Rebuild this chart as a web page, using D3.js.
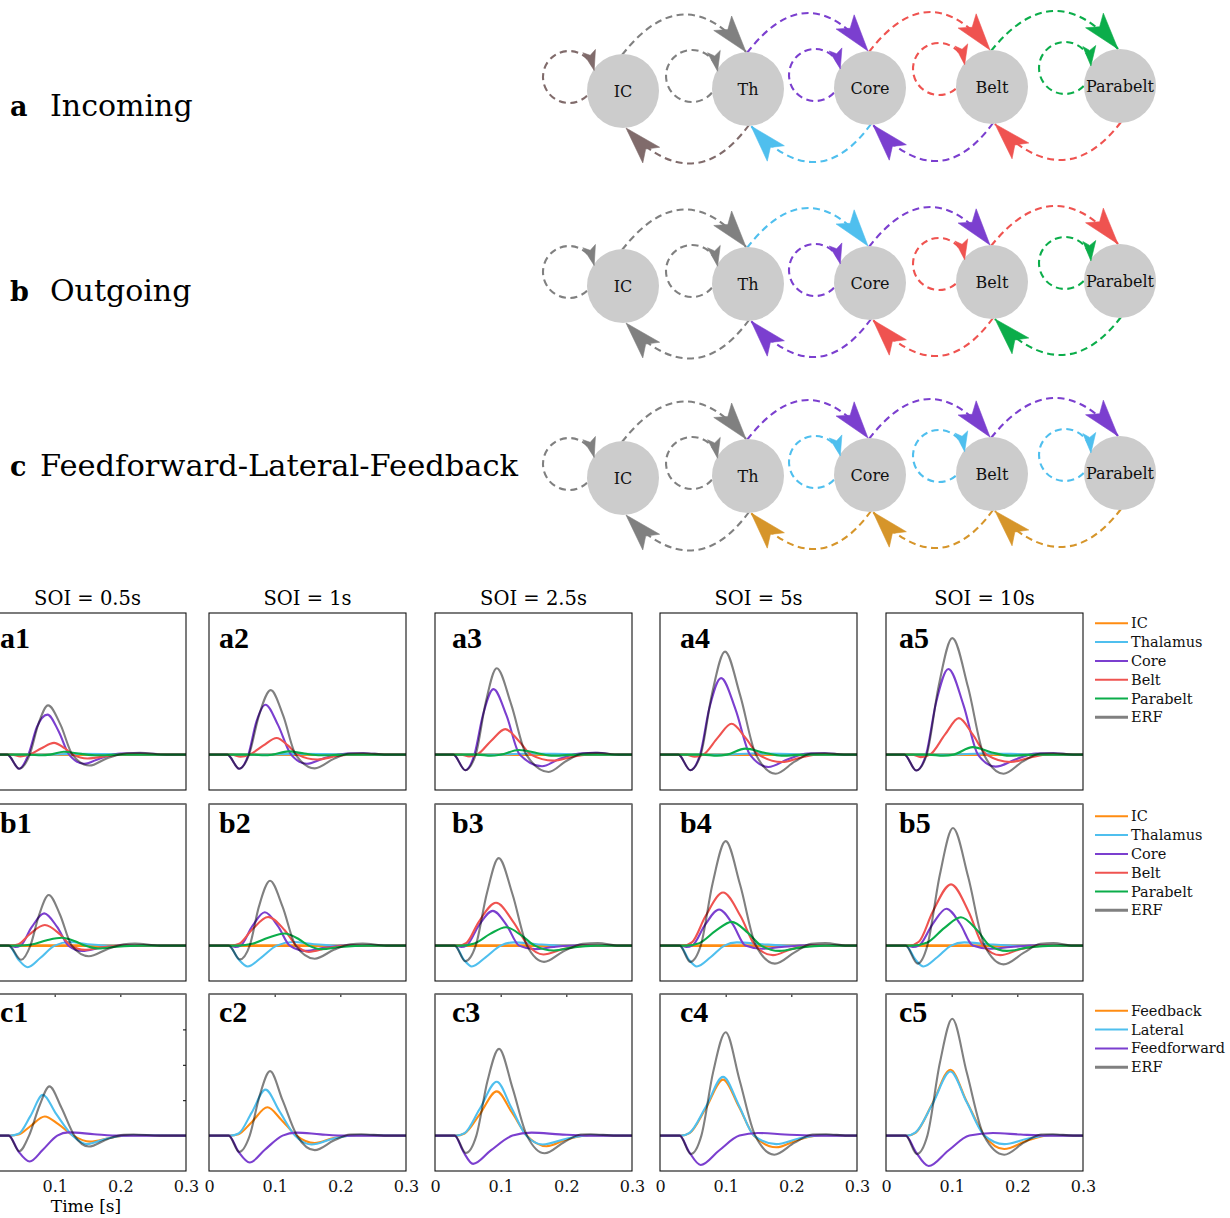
<!DOCTYPE html>
<html><head><meta charset="utf-8">
<script src="https://cdn.jsdelivr.net/npm/d3@7"></script>
<style>body{margin:0;background:#fff} svg{display:block}</style>
</head><body>
<svg id="chart" width="1230" height="1218"></svg>
<script>
// ================= DATA =================
const nodeNames = ["IC","Th","Core","Belt","Parabelt"];
const diagramLetters = ["a","b","c"];
const diagramTitles = ["Incoming","Outgoing","Feedforward-Lateral-Feedback"];
// edge colour names per diagram
const loopColors = [
  ["brown","gray","purple","red","green"],
  ["gray","gray","purple","red","green"],
  ["gray","gray","blue","blue","blue"]];
const forwardColors = [  // IC→Th, Th→Core, Core→Belt, Belt→Parabelt (upper arcs)
  ["gray","purple","red","green"],
  ["gray","blue","purple","red"],
  ["gray","purple","purple","purple"]];
const backwardColors = [ // Th→IC, Core→Th, Belt→Core, Parabelt→Belt (lower arcs)
  ["brown","blue","purple","red"],
  ["gray","purple","red","green"],
  ["gray","gold","gold","gold"]];

const soiLabels = ["SOI = 0.5s","SOI = 1s","SOI = 2.5s","SOI = 5s","SOI = 10s"];
const rowLetters = ["a","b","c"];
const regionNames = ["IC","Thalamus","Core","Belt","Parabelt","ERF"];
const connNames = ["Feedback","Lateral","Feedforward","ERF"];
const xTicks = [0, 0.1, 0.2, 0.3];
const yInnerTicks = [1, 2, 3];

// ---- Row a: Incoming (knots [time s, amplitude]) one list per SOI ----
const inIC = [
  [[0,0],[0.3,0]],[[0,0],[0.3,0]],[[0,0],[0.3,0]],[[0,0],[0.3,0]],[[0,0],[0.3,0]]];
const inTh = [
  [[0,0],[0.09,0],[0.13,0.02],[0.2,0.01],[0.3,0]],
  [[0,0],[0.09,0],[0.13,0.02],[0.2,0.01],[0.3,0]],
  [[0,0],[0.10,0],[0.14,0.03],[0.21,0.01],[0.3,0]],
  [[0,0],[0.10,0],[0.14,0.03],[0.21,0.01],[0.3,0]],
  [[0,0],[0.10,0],[0.145,0.03],[0.22,0.01],[0.3,0]]];
const inCore = [
  [[0,0],[0.028,0],[0.046,-0.40],[0.060,0],[0.073,0.78],[0.089,1.13],[0.106,0.66],[0.122,0],[0.145,-0.26],[0.17,-0.10],[0.20,0.03],[0.23,0.04],[0.27,0],[0.3,0]],
  [[0,0],[0.028,0],[0.046,-0.40],[0.060,0],[0.072,0.92],[0.086,1.41],[0.105,0.84],[0.125,0],[0.149,-0.26],[0.175,-0.10],[0.21,0.03],[0.235,0.04],[0.27,0],[0.3,0]],
  [[0,0],[0.028,0],[0.046,-0.44],[0.060,0],[0.073,1.12],[0.089,1.85],[0.109,1.10],[0.129,0],[0.163,-0.33],[0.19,-0.12],[0.22,0.03],[0.245,0.05],[0.28,0],[0.3,0]],
  [[0,0],[0.028,0],[0.046,-0.44],[0.061,0],[0.075,1.30],[0.093,2.16],[0.115,1.28],[0.137,0],[0.165,-0.35],[0.195,-0.13],[0.225,0.03],[0.25,0.04],[0.28,0],[0.3,0]],
  [[0,0],[0.028,0],[0.046,-0.45],[0.061,0],[0.076,1.45],[0.095,2.42],[0.118,1.40],[0.140,0],[0.167,-0.34],[0.198,-0.13],[0.228,0.03],[0.255,0.04],[0.285,0],[0.3,0]]];
const inBelt = [
  [[0,0],[0.035,0],[0.048,-0.05],[0.062,0],[0.080,0.18],[0.099,0.33],[0.115,0.18],[0.128,0],[0.150,-0.11],[0.18,-0.04],[0.21,0.01],[0.3,0]],
  [[0,0],[0.035,0],[0.048,-0.06],[0.062,0],[0.083,0.26],[0.103,0.47],[0.120,0.26],[0.135,0],[0.165,-0.14],[0.195,-0.04],[0.225,0.01],[0.3,0]],
  [[0,0],[0.040,0],[0.052,-0.05],[0.064,0],[0.086,0.40],[0.107,0.72],[0.127,0.40],[0.146,0],[0.180,-0.17],[0.21,-0.06],[0.24,0.01],[0.3,0]],
  [[0,0],[0.040,0],[0.053,-0.06],[0.066,0],[0.088,0.48],[0.109,0.87],[0.130,0.48],[0.150,0],[0.186,-0.21],[0.215,-0.08],[0.245,0.01],[0.3,0]],
  [[0,0],[0.040,0],[0.053,-0.07],[0.067,0],[0.090,0.57],[0.111,1.03],[0.132,0.57],[0.153,0],[0.190,-0.21],[0.22,-0.08],[0.25,0.01],[0.3,0]]];
const inPara = [
  [[0,0],[0.06,0],[0.08,-0.02],[0.093,0],[0.114,0.08],[0.14,0.02],[0.165,-0.02],[0.2,0],[0.3,0]],
  [[0,0],[0.065,0],[0.085,-0.02],[0.097,0],[0.121,0.09],[0.145,0.03],[0.17,-0.02],[0.21,0],[0.3,0]],
  [[0,0],[0.065,0],[0.085,-0.03],[0.100,0],[0.128,0.13],[0.156,0.04],[0.18,-0.03],[0.22,0],[0.3,0]],
  [[0,0],[0.065,0],[0.087,-0.03],[0.102,0],[0.130,0.17],[0.159,0.05],[0.185,-0.03],[0.225,0],[0.3,0]],
  [[0,0],[0.065,0],[0.087,-0.03],[0.103,0],[0.132,0.21],[0.161,0.06],[0.188,-0.03],[0.23,0],[0.3,0]]];
const inERF = [
  [[0,0],[0.028,0],[0.046,-0.40],[0.062,0],[0.075,0.85],[0.090,1.39],[0.109,0.84],[0.127,0],[0.153,-0.31],[0.18,-0.10],[0.21,0.04],[0.23,0.05],[0.27,0],[0.3,0]],
  [[0,0],[0.028,0],[0.046,-0.40],[0.061,0],[0.076,1.10],[0.094,1.82],[0.113,1.10],[0.132,0],[0.161,-0.39],[0.19,-0.12],[0.215,0.03],[0.235,0.04],[0.27,0],[0.3,0]],
  [[0,0],[0.028,0],[0.046,-0.44],[0.062,0],[0.077,1.45],[0.094,2.44],[0.116,1.42],[0.139,0],[0.173,-0.49],[0.20,-0.18],[0.225,0.03],[0.248,0.05],[0.28,0],[0.3,0]],
  [[0,0],[0.028,0],[0.046,-0.44],[0.062,0],[0.079,1.70],[0.099,2.91],[0.122,1.68],[0.146,0],[0.176,-0.54],[0.205,-0.20],[0.23,0.03],[0.252,0.04],[0.28,0],[0.3,0]],
  [[0,0],[0.028,0],[0.046,-0.45],[0.062,0],[0.080,1.92],[0.101,3.29],[0.125,1.90],[0.149,0],[0.179,-0.54],[0.208,-0.20],[0.235,0.03],[0.255,0.04],[0.285,0],[0.3,0]]];

// ---- Row b: Outgoing ----
const outIC = [
  [[0,0],[0.3,0]],[[0,0],[0.3,0]],[[0,0],[0.3,0]],[[0,0],[0.3,0]],[[0,0],[0.3,0]]];
const outTh = [
  [[0,0],[0.030,0],[0.045,-0.40],[0.059,-0.61],[0.078,-0.35],[0.100,0],[0.123,0.10],[0.15,0.04],[0.19,0],[0.3,0]],
  [[0,0],[0.030,0],[0.045,-0.39],[0.059,-0.59],[0.080,-0.33],[0.103,0],[0.128,0.10],[0.16,0.04],[0.20,0],[0.3,0]],
  [[0,0],[0.030,0],[0.044,-0.40],[0.056,-0.59],[0.077,-0.33],[0.100,0],[0.120,0.09],[0.155,0.04],[0.20,0],[0.3,0]],
  [[0,0],[0.030,0],[0.044,-0.40],[0.056,-0.59],[0.077,-0.33],[0.098,0],[0.117,0.09],[0.155,0.04],[0.20,0],[0.3,0]],
  [[0,0],[0.030,0],[0.045,-0.40],[0.057,-0.59],[0.078,-0.33],[0.099,0],[0.119,0.09],[0.155,0.04],[0.20,0],[0.3,0]]];
const outCore = [
  [[0,0],[0.032,0],[0.040,-0.04],[0.048,0],[0.065,0.52],[0.084,0.91],[0.104,0.52],[0.121,0],[0.142,-0.15],[0.17,-0.06],[0.21,0.01],[0.3,0]],
  [[0,0],[0.032,0],[0.040,-0.04],[0.048,0],[0.066,0.55],[0.085,0.94],[0.105,0.55],[0.123,0],[0.147,-0.15],[0.175,-0.06],[0.215,0.01],[0.3,0]],
  [[0,0],[0.032,0],[0.040,-0.04],[0.048,0],[0.067,0.58],[0.088,0.98],[0.109,0.58],[0.128,0],[0.152,-0.10],[0.18,-0.04],[0.22,0.01],[0.3,0]],
  [[0,0],[0.032,0],[0.040,-0.04],[0.049,0],[0.069,0.60],[0.090,1.02],[0.111,0.60],[0.130,0],[0.155,-0.09],[0.185,-0.04],[0.225,0.01],[0.3,0]],
  [[0,0],[0.032,0],[0.041,-0.04],[0.050,0],[0.071,0.61],[0.092,1.04],[0.113,0.61],[0.132,0],[0.158,-0.09],[0.19,-0.04],[0.23,0.01],[0.3,0]]];
const outBelt = [
  [[0,0],[0.033,0],[0.045,0.04],[0.062,0.32],[0.085,0.58],[0.108,0.32],[0.125,0],[0.146,-0.12],[0.175,-0.04],[0.21,0],[0.3,0]],
  [[0,0],[0.034,0],[0.046,0.05],[0.065,0.44],[0.090,0.81],[0.115,0.44],[0.133,0],[0.152,-0.18],[0.18,-0.07],[0.215,0],[0.3,0]],
  [[0,0],[0.035,0],[0.048,0.08],[0.066,0.65],[0.093,1.21],[0.120,0.65],[0.142,0],[0.165,-0.25],[0.195,-0.10],[0.23,0],[0.3,0]],
  [[0,0],[0.035,0],[0.049,0.10],[0.069,0.82],[0.096,1.50],[0.123,0.82],[0.145,0],[0.172,-0.27],[0.20,-0.10],[0.235,0],[0.3,0]],
  [[0,0],[0.035,0],[0.050,0.11],[0.071,0.95],[0.099,1.73],[0.126,0.95],[0.148,0],[0.174,-0.27],[0.205,-0.10],[0.24,0],[0.3,0]]];
const outPara = [
  [[0,0],[0.045,0],[0.065,0.03],[0.088,0.15],[0.111,0.22],[0.131,0.12],[0.146,0],[0.166,-0.08],[0.195,-0.03],[0.23,0],[0.3,0]],
  [[0,0],[0.045,0],[0.066,0.05],[0.090,0.22],[0.115,0.34],[0.137,0.18],[0.152,0],[0.171,-0.10],[0.20,-0.04],[0.24,0],[0.3,0]],
  [[0,0],[0.040,0],[0.060,0.06],[0.084,0.33],[0.108,0.52],[0.132,0.28],[0.152,0],[0.181,-0.14],[0.21,-0.05],[0.245,0],[0.3,0]],
  [[0,0],[0.040,0],[0.060,0.07],[0.085,0.42],[0.109,0.67],[0.134,0.36],[0.154,0],[0.182,-0.15],[0.215,-0.05],[0.25,0],[0.3,0]],
  [[0,0],[0.040,0],[0.062,0.08],[0.089,0.50],[0.114,0.80],[0.139,0.43],[0.158,0],[0.184,-0.15],[0.218,-0.05],[0.255,0],[0.3,0]]];
const outERF = [
  [[0,0],[0.030,0],[0.049,-0.40],[0.063,0],[0.076,0.85],[0.091,1.43],[0.108,0.88],[0.126,0],[0.152,-0.30],[0.18,-0.10],[0.205,0.04],[0.222,0.06],[0.26,0],[0.3,0]],
  [[0,0],[0.030,0],[0.047,-0.39],[0.062,0],[0.076,1.10],[0.093,1.83],[0.112,1.10],[0.132,0],[0.161,-0.37],[0.19,-0.12],[0.215,0.04],[0.234,0.06],[0.27,0],[0.3,0]],
  [[0,0],[0.030,0],[0.046,-0.44],[0.062,0],[0.079,1.48],[0.097,2.47],[0.118,1.45],[0.140,0],[0.166,-0.46],[0.195,-0.17],[0.225,0.05],[0.248,0.07],[0.28,0],[0.3,0]],
  [[0,0],[0.030,0],[0.046,-0.46],[0.062,0],[0.080,1.75],[0.100,2.95],[0.122,1.72],[0.146,0],[0.175,-0.51],[0.205,-0.19],[0.23,0.05],[0.252,0.07],[0.285,0],[0.3,0]],
  [[0,0],[0.030,0],[0.048,-0.51],[0.063,0],[0.082,2.00],[0.102,3.32],[0.125,1.95],[0.150,0],[0.179,-0.53],[0.21,-0.20],[0.235,0.05],[0.255,0.07],[0.285,0],[0.3,0]]];

// ---- Row c: Feedforward / Lateral / Feedback ----
const ffbFeedback = [
  [[0,0],[0.032,0],[0.045,0.03],[0.062,0.25],[0.085,0.54],[0.105,0.33],[0.128,0],[0.154,-0.17],[0.185,-0.06],[0.215,0.01],[0.3,0]],
  [[0,0],[0.032,0],[0.045,0.04],[0.065,0.38],[0.089,0.80],[0.110,0.45],[0.133,0],[0.161,-0.21],[0.19,-0.07],[0.225,0.01],[0.3,0]],
  [[0,0],[0.032,0],[0.045,0.06],[0.068,0.60],[0.094,1.25],[0.117,0.66],[0.140,0],[0.170,-0.30],[0.20,-0.11],[0.235,0.01],[0.3,0]],
  [[0,0],[0.032,0],[0.045,0.07],[0.070,0.78],[0.096,1.58],[0.120,0.82],[0.143,0],[0.177,-0.33],[0.21,-0.12],[0.245,0.01],[0.3,0]],
  [[0,0],[0.032,0],[0.045,0.08],[0.071,0.92],[0.098,1.86],[0.123,0.96],[0.150,0],[0.180,-0.38],[0.215,-0.14],[0.25,0.01],[0.3,0]]];
const ffbLateral = [
  [[0,0],[0.032,0],[0.045,0.05],[0.063,0.55],[0.082,1.15],[0.102,0.62],[0.127,0],[0.149,-0.24],[0.18,-0.08],[0.215,0.01],[0.3,0]],
  [[0,0],[0.032,0],[0.045,0.06],[0.065,0.65],[0.086,1.30],[0.107,0.70],[0.131,0],[0.156,-0.25],[0.19,-0.08],[0.225,0.01],[0.3,0]],
  [[0,0],[0.032,0],[0.045,0.07],[0.068,0.75],[0.094,1.52],[0.116,0.80],[0.139,0],[0.164,-0.25],[0.20,-0.09],[0.235,0.01],[0.3,0]],
  [[0,0],[0.032,0],[0.045,0.08],[0.070,0.82],[0.096,1.66],[0.120,0.86],[0.143,0],[0.177,-0.24],[0.21,-0.09],[0.245,0.01],[0.3,0]],
  [[0,0],[0.032,0],[0.045,0.09],[0.071,0.90],[0.098,1.81],[0.123,0.94],[0.150,0],[0.180,-0.24],[0.215,-0.09],[0.25,0.01],[0.3,0]]];
const ffbFeedforward = [
  [[0,0],[0.030,0],[0.045,-0.45],[0.062,-0.73],[0.082,-0.40],[0.104,0],[0.121,0.09],[0.16,0.04],[0.20,0],[0.3,0]],
  [[0,0],[0.030,0],[0.045,-0.46],[0.062,-0.76],[0.085,-0.40],[0.112,0],[0.133,0.085],[0.17,0.035],[0.21,0],[0.3,0]],
  [[0,0],[0.030,0],[0.043,-0.45],[0.058,-0.80],[0.085,-0.42],[0.118,0],[0.147,0.085],[0.19,0.035],[0.23,0],[0.3,0]],
  [[0,0],[0.030,0],[0.044,-0.45],[0.062,-0.83],[0.090,-0.42],[0.121,0],[0.149,0.075],[0.19,0.03],[0.235,0],[0.3,0]],
  [[0,0],[0.030,0],[0.045,-0.45],[0.065,-0.86],[0.095,-0.42],[0.127,0],[0.163,0.075],[0.205,0.03],[0.245,0],[0.3,0]]];
const ffbERF = [
  [[0,0],[0.030,0],[0.046,-0.44],[0.061,0],[0.077,0.85],[0.092,1.39],[0.110,0.80],[0.130,0],[0.152,-0.31],[0.18,-0.10],[0.205,0.02],[0.22,0.03],[0.26,0],[0.3,0]],
  [[0,0],[0.030,0],[0.046,-0.46],[0.062,0],[0.077,1.12],[0.093,1.82],[0.112,1.00],[0.134,0],[0.161,-0.41],[0.19,-0.14],[0.215,0.03],[0.232,0.04],[0.27,0],[0.3,0]],
  [[0,0],[0.030,0],[0.047,-0.49],[0.063,0],[0.080,1.55],[0.0975,2.45],[0.118,1.35],[0.140,0],[0.167,-0.50],[0.197,-0.18],[0.222,0.03],[0.237,0.04],[0.275,0],[0.3,0]],
  [[0,0],[0.030,0],[0.047,-0.52],[0.063,0],[0.081,1.80],[0.100,2.92],[0.121,1.58],[0.145,0],[0.174,-0.54],[0.205,-0.20],[0.232,0.03],[0.253,0.04],[0.285,0],[0.3,0]],
  [[0,0],[0.030,0],[0.047,-0.52],[0.063,0],[0.082,2.05],[0.101,3.30],[0.123,1.78],[0.149,0],[0.180,-0.54],[0.21,-0.20],[0.236,0.03],[0.254,0.04],[0.285,0],[0.3,0]]];

// ================= STYLE / LAYOUT =================
const edgePalette = {gray:"#808080", brown:"#806b6b", purple:"#7b3fcf", red:"#ef5350",
                     green:"#0bad4a", blue:"#4fbfee", gold:"#d6952a"};
const regionColors = ["#ff8c12","#4fbfee","#7b3fcf","#ef5350","#0bad4a","#808080"];
const connColors = ["#ff8c12","#4fbfee","#7b3fcf","#808080"];
const SERIF = "'DejaVu Serif', serif";
const svg = d3.select("#chart");

// ---------- Diagrams ----------
const nodeCx = [623, 748, 870, 992, 1120];
const nodeCy = [91, 89, 88, 87, 86];
const diagramDy = [0, 195, 387];
const titleBase = [116, 301, 476];
const titleX = [50, 50, 40];
const titleSize = [30, 30, 30.5];
const RX = 36, RY = 37;
const loopOff = [[-54,-14],[-56,-13],[-55,-13],[-53,-18],[-55,-18]];
const LOOP_R = 26;

function arrowHead(g, tip, dir, len, hw, color) {
  const n = Math.hypot(dir[0], dir[1]);
  const ux = dir[0]/n, uy = dir[1]/n, nx = -uy, ny = ux;
  const bx = tip[0]-ux*len, by = tip[1]-uy*len;
  const mx = tip[0]-ux*len*0.78, my = tip[1]-uy*len*0.78;
  const p = d3.path();
  p.moveTo(tip[0], tip[1]);
  p.lineTo(bx+nx*hw, by+ny*hw);
  p.lineTo(mx, my);
  p.lineTo(bx-nx*hw, by-ny*hw);
  p.closePath();
  g.append("path").attr("d", p.toString()).attr("fill", color).attr("stroke", color)
    .attr("stroke-width", 0.6).attr("stroke-linejoin","round");
}

diagramTitles.forEach((title, r) => {
  const dy = diagramDy[r];
  const g = svg.append("g");
  const nodes = nodeNames.map((name, i) => ({name, cx: nodeCx[i], cy: nodeCy[i] + dy}));
  const dashed = {"stroke-width": 2.1, "stroke-dasharray": "7,4.5", fill: "none"};
  const heads = [];
  forwardColors[r].forEach((cn, i) => {
    const a = nodes[i], b = nodes[i+1];
    const s = [a.cx - 1, a.cy - RY + 1], e = [b.cx - 2, b.cy - RY];
    const c = [(s[0]+e[0])/2, (s[1]+e[1])/2 - 78];
    const p = d3.path(); p.moveTo(...s); p.quadraticCurveTo(c[0], c[1], e[0], e[1]);
    const el = g.append("path").attr("d", p.toString()).attr("stroke", edgePalette[cn]);
    Object.entries(dashed).forEach(([k,v]) => el.attr(k, v));
    heads.push({tip: e, dir: [e[0]-c[0], e[1]-c[1]], len: 37, hw: 11.5, color: edgePalette[cn]});
  });
  backwardColors[r].forEach((cn, i) => {
    const a = nodes[i], b = nodes[i+1];
    const s = [b.cx + 1, b.cy + RY - 1], e = [a.cx + 3, a.cy + RY];
    const c = [(s[0]+e[0])/2 + 6, (s[1]+e[1])/2 + 74];
    const p = d3.path(); p.moveTo(...s); p.quadraticCurveTo(c[0], c[1], e[0], e[1]);
    const el = g.append("path").attr("d", p.toString()).attr("stroke", edgePalette[cn]);
    Object.entries(dashed).forEach(([k,v]) => el.attr(k, v));
    heads.push({tip: e, dir: [e[0]-c[0], e[1]-c[1]], len: 37, hw: 11.5, color: edgePalette[cn]});
  });
  loopColors[r].forEach((cn, i) => {
    const nd = nodes[i];
    const lc = [nd.cx + loopOff[i][0], nd.cy + loopOff[i][1]];
    const inside = th => {
      const px = lc[0] + LOOP_R*Math.cos(th), py = lc[1] + LOOP_R*Math.sin(th);
      return ((px-nd.cx)/RX)**2 + ((py-nd.cy)/RY)**2 < 1;
    };
    let t0 = 0, t1 = 2*Math.PI;
    for (let k = 0; k <= 180; k++) { const th = k*Math.PI/180; if (!inside(th)) { t0 = th; break; } }
    for (let k = 360; k >= 180; k--) { const th = k*Math.PI/180; if (!inside(th)) { t1 = th; break; } }
    const p = d3.path();
    p.arc(lc[0], lc[1], LOOP_R, t0, t1 - 0.15, false);
    const el = g.append("path").attr("d", p.toString()).attr("stroke", edgePalette[cn]);
    Object.entries(dashed).forEach(([k,v]) => el.attr(k, v));
    const tth = t1 + 0.06;
    const tip = [lc[0] + LOOP_R*Math.cos(tth), lc[1] + LOOP_R*Math.sin(tth)];
    heads.push({tip, dir: [-Math.sin(tth), Math.cos(tth)], len: 20, hw: 6.5, color: edgePalette[cn]});
  });
  g.selectAll("ellipse.node").data(nodes).join("ellipse")
    .attr("cx", d => d.cx).attr("cy", d => d.cy).attr("rx", RX).attr("ry", RY)
    .attr("fill", "#cccccc");
  g.selectAll("text.node").data(nodes).join("text")
    .attr("x", d => d.cx).attr("y", d => d.cy).attr("dy", "0.35em")
    .attr("text-anchor", "middle").attr("font-family", SERIF).attr("font-size", 16)
    .attr("fill", "#111").text(d => d.name);
  heads.forEach(h => arrowHead(g, h.tip, h.dir, h.len, h.hw, h.color));
  svg.append("text").attr("x", 10).attr("y", titleBase[r]).attr("font-family", SERIF)
    .attr("font-weight", "bold").attr("font-size", 27).text(diagramLetters[r]);
  svg.append("text").attr("x", titleX[r]).attr("y", titleBase[r]).attr("font-family", SERIF)
    .attr("font-size", titleSize[r]).text(title);
});

// ---------- ERF panels ----------
const colX0 = [-11, 209, 435, 660, 886];
const panelW = 197, panelH = 177;
const rowY0 = [613, 804, 994];
const labelX = [0, 219, 452, 680, 899];
const labelBase = [648, 833, 1022];

const rows = [
  {series: [inIC, inTh, inCore, inBelt, inPara, inERF], names: regionNames, colors: regionColors},
  {series: [outIC, outTh, outCore, outBelt, outPara, outERF], names: regionNames, colors: regionColors},
  {series: [ffbFeedback, ffbLateral, ffbFeedforward, ffbERF], names: connNames, colors: connColors}
];

const defs = svg.append("defs");
rows.forEach((row, r) => {
  soiLabels.forEach((soi, c) => {
    const x = d3.scaleLinear().domain([0, 0.3]).range([colX0[c], colX0[c] + panelW]);
    const y = d3.scaleLinear().domain([-1, 4]).range([rowY0[r] + panelH, rowY0[r]]);
    const id = `clip-${r}-${c}`;
    defs.append("clipPath").attr("id", id).append("rect")
      .attr("x", colX0[c]).attr("y", rowY0[r]).attr("width", panelW).attr("height", panelH);
    const g = svg.append("g");
    const lg = g.append("g").attr("clip-path", `url(#${id})`);
    const line = d3.line().x(d => x(d[0])).y(d => y(d[1])).curve(d3.curveMonotoneX);
    row.series.forEach((s, k) => {
      const isERF = row.names[k] === "ERF";
      lg.append("path").datum(s[c]).attr("d", line)
        .attr("fill", "none").attr("stroke", row.colors[k])
        .attr("stroke-width", (k === 0 && r < 2) ? 2.6 : 2.1)
        .style("mix-blend-mode", isERF ? "multiply" : "normal");
    });
    if (r === 2) {
      g.append("g").attr("transform", `translate(0,${rowY0[r]})`)
        .call(d3.axisTop(x).tickValues([0.1, 0.2]).tickSize(-3).tickFormat(""))
        .call(a => a.select(".domain").remove());
      if (c === 0) {
        g.append("g").attr("transform", `translate(${colX0[c] + panelW},0)`)
          .call(d3.axisRight(y).tickValues(yInnerTicks).tickSize(-3).tickFormat(""))
          .call(a => a.select(".domain").remove());
      }
      const shown = c === 0 ? xTicks.filter(t => x(t) > 5) : xTicks;
      const ax = g.append("g").attr("transform", `translate(0,${rowY0[r] + panelH})`)
        .call(d3.axisBottom(x).tickValues(shown).tickSize(0).tickPadding(10)
          .tickFormat(d => d === 0 ? "0" : d3.format(".1f")(d)));
      ax.select(".domain").remove();
      ax.selectAll("text").attr("font-family", SERIF).attr("font-size", 16).attr("fill", "#111");
    }
    g.append("rect").attr("x", colX0[c]).attr("y", rowY0[r]).attr("width", panelW).attr("height", panelH)
      .attr("fill", "none").attr("stroke", "#111").attr("stroke-width", 1.1);
    if (r > 0) {
      g.append("line").attr("x1", colX0[c]).attr("x2", colX0[c] + panelW)
        .attr("y1", rowY0[r]).attr("y2", rowY0[r]).attr("stroke", "#777").attr("stroke-width", 1.3);
    }
    g.append("text").attr("x", labelX[c]).attr("y", labelBase[r])
      .attr("font-family", "'Liberation Serif', 'Times New Roman', serif").attr("font-weight", "bold")
      .attr("font-size", 30).text(rowLetters[r] + (c + 1));
    if (r === 0) {
      svg.append("text").attr("x", colX0[c] + panelW / 2).attr("y", 605).attr("text-anchor", "middle")
        .attr("font-family", SERIF).attr("font-size", 19.5).text(soi);
    }
  });
  const legY0 = [623.3, 816.3, 1010.8][r];
  const leg = svg.append("g");
  row.names.forEach((nm, k) => {
    const yy = legY0 + k * 18.8;
    leg.append("line").attr("x1", 1095).attr("x2", 1128).attr("y1", yy).attr("y2", yy)
      .attr("stroke", row.colors[k]).attr("stroke-width", nm === "ERF" ? 3 : 2);
    leg.append("text").attr("x", 1131).attr("y", yy).attr("dy", "0.35em")
      .attr("font-family", SERIF).attr("font-size", 14.5).attr("fill", "#111").text(nm);
  });
});

svg.append("text").attr("x", 86).attr("y", 1212).attr("text-anchor", "middle")
  .attr("font-family", SERIF).attr("font-size", 17).text("Time [s]");
</script>
</body></html>
